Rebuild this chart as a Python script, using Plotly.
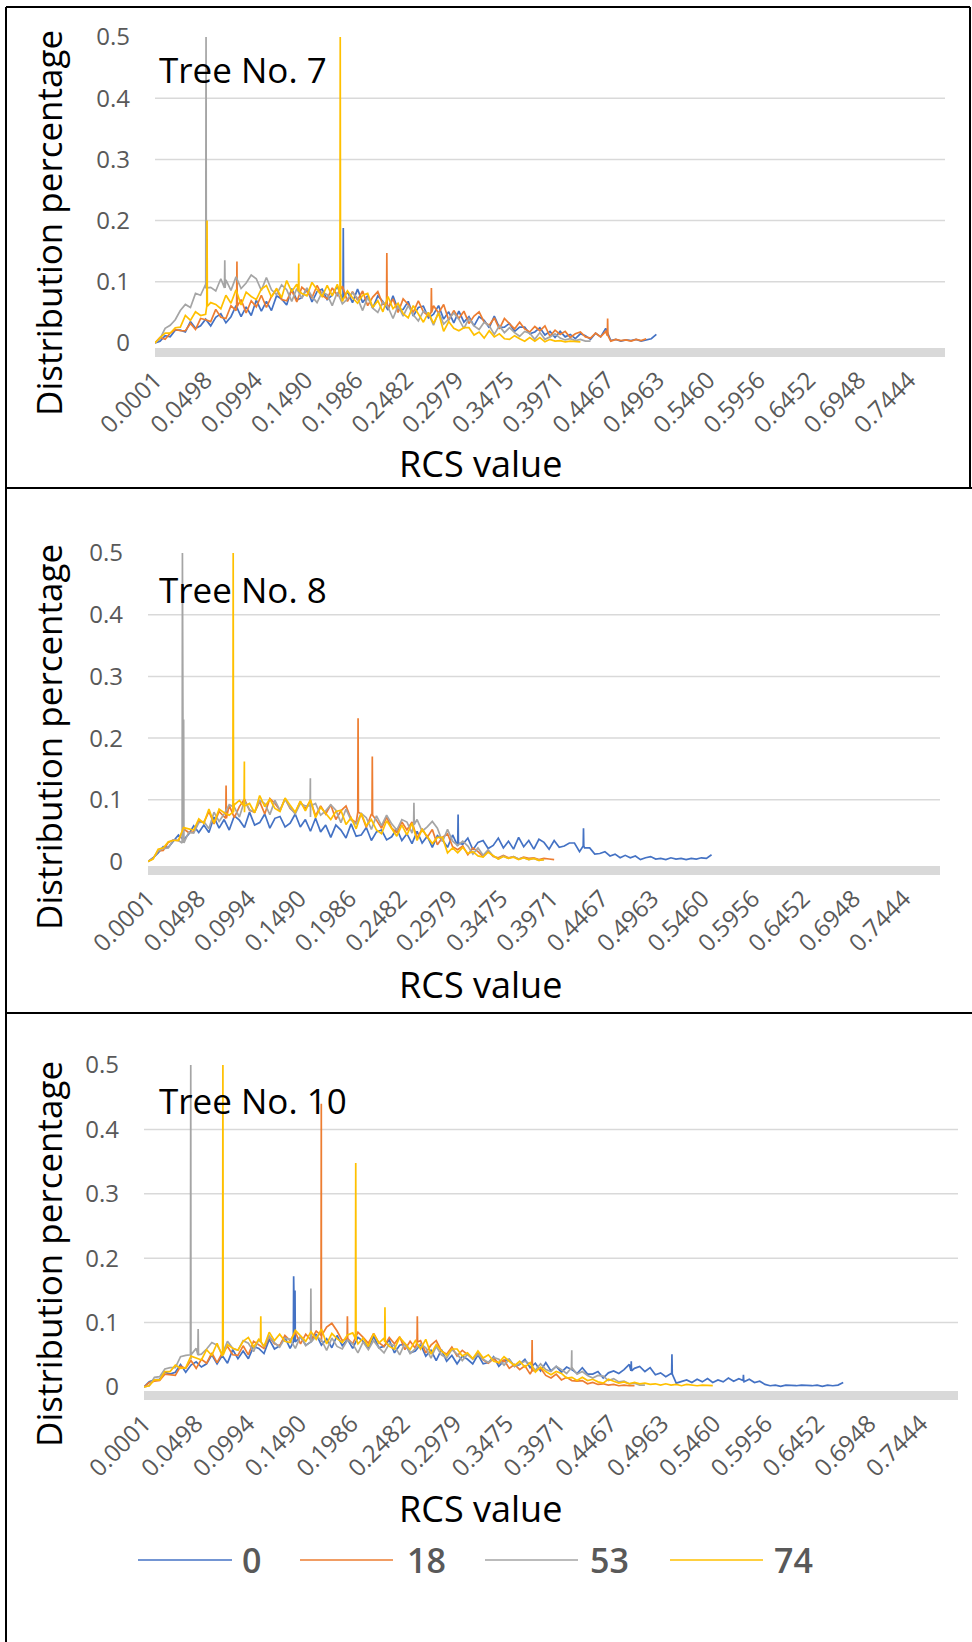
import plotly.graph_objects as go

# ---------------- data ----------------
STEP = 0.005      # spacing of the sampled RCS bins
X0 = 0.0001       # first RCS category

tick_vals = [0.0001, 0.0498, 0.0994, 0.1490, 0.1986, 0.2482, 0.2979, 0.3475,
             0.3971, 0.4467, 0.4963, 0.5460, 0.5956, 0.6452, 0.6948, 0.7444]
tick_text = ["0.0001", "0.0498", "0.0994", "0.1490", "0.1986", "0.2482", "0.2979", "0.3475",
             "0.3971", "0.4467", "0.4963", "0.5460", "0.5956", "0.6452", "0.6948", "0.7444"]
y_tick_vals = [0, 0.1, 0.2, 0.3, 0.4, 0.5]
y_tick_text = ["0", "0.1", "0.2", "0.3", "0.4", "0.5"]
grid_vals = [0.1, 0.2, 0.3, 0.4]

series_names = ["0", "18", "53", "74"]
series_colors = ["#4472C4", "#ED7D31", "#A5A5A5", "#FFC000"]
tree_names = ["Tree No. 7", "Tree No. 8", "Tree No. 10"]

# Tree No. 7
t7_0 = [0, .003, .012, .010, .021, .021, .018, .035, .024, .028,
        .039, .028, .042, .048, .033, .043, .061, .043, .059, .045,
        .070, .052, .068, .053, .077, .072, .062, .089, .070, .074,
        .089, .067, .084, .088, .071, .078, .093, .072, .084, .066,
        .088, .066, .077, .057, .077, .068, .054, .077, .054, .055,
        .068, .044, .058, .060, .041, .047, .061, .039, .051, .033,
        .052, .034, .043, .028, .043, .037, .025, .044, .025, .026,
        .032, .019, .026, .026, .015, .018, .025, .013, .019, .009,
        .019, .010, .014, .007, .015, .012, .006, .016, .010, .024,
        .004, .006, .003, .005, .004, .006, .003, .005, .007, .014]
t7_18 = [0, .009, .006, .016, .022, .020, .020, .032, .022, .040,
         .038, .035, .055, .042, .040, .061, .053, .071, .049, .069,
         .059, .078, .058, .076, .088, .071, .069, .086, .067, .091,
         .084, .074, .094, .078, .072, .090, .078, .093, .068, .084,
         .070, .085, .061, .075, .084, .063, .057, .072, .050, .072,
         .063, .050, .069, .051, .044, .061, .049, .063, .037, .053,
         .040, .052, .032, .044, .051, .034, .029, .041, .023, .040,
         .032, .023, .034, .023, .018, .027, .020, .028, .011, .021,
         .014, .019, .009, .015, .018, .010, .008, .016, .010, .019,
         .003, .006, .004, .005, .003, .006, .004, .007]
t7_53 = [0, .007, .024, .029, .038, .053, .063, .058, .081, .078,
         .096, .091, .085, .105, .103, .086, .108, .089, .098, .111,
         .105, .086, .107, .087, .079, .095, .087, .068, .089, .073,
         .090, .076, .066, .083, .079, .061, .083, .064, .072, .082,
         .073, .053, .075, .057, .050, .067, .059, .040, .061, .044,
         .061, .046, .036, .052, .048, .029, .051, .031, .039, .049,
         .039, .024, .040, .028, .022, .034, .028, .014, .028, .017,
         .025, .017, .011, .019, .016, .006, .017, .006, .010, .015,
         .008, .005, .007, .004, .006, .003, .003]
t7_74 = [0, .009, .016, .016, .025, .026, .045, .037, .051, .045,
         .047, .066, .063, .056, .078, .065, .087, .062, .083, .076,
         .071, .088, .094, .075, .089, .074, .102, .084, .096, .081,
         .077, .099, .087, .076, .094, .077, .096, .068, .085, .074,
         .065, .078, .081, .058, .069, .051, .076, .056, .065, .048,
         .041, .061, .047, .034, .050, .032, .049, .019, .035, .024,
         .020, .025, .025, .013, .018, .008, .020, .010, .015, .007,
         .006, .012, .007, .003, .009, .003, .009, .002, .006, .003,
         .004, .002, .003, .002, .002]

# Tree No. 8
t8_0 = [0, .006, .014, .024, .023, .033, .043, .035, .044, .058,
        .047, .059, .047, .072, .054, .068, .051, .074, .067, .055,
        .080, .059, .063, .077, .054, .070, .073, .056, .062, .077,
        .056, .068, .049, .070, .048, .059, .039, .059, .051, .038,
        .061, .041, .043, .055, .034, .048, .051, .035, .040, .053,
        .034, .045, .029, .049, .030, .041, .023, .042, .035, .023,
        .043, .025, .028, .038, .019, .031, .034, .021, .026, .038,
        .022, .033, .020, .039, .024, .034, .020, .036, .031, .020,
        .034, .023, .025, .030, .030, .016, .022, .022, .012, .013,
        .016, .009, .012, .006, .010, .006, .009, .003, .006, .008,
        .004, .005, .003, .006, .004, .005, .003, .005, .004, .006, .005, .011]
t8_18 = [0, .005, .017, .018, .031, .035, .034, .053, .047, .048,
         .066, .063, .081, .061, .081, .072, .091, .071, .089, .101,
         .083, .080, .097, .077, .102, .094, .083, .102, .086, .079,
         .097, .085, .099, .074, .090, .077, .092, .068, .082, .090,
         .069, .063, .077, .055, .077, .067, .054, .072, .054, .047,
         .064, .051, .064, .038, .053, .039, .052, .027, .039, .045,
         .024, .019, .025, .011, .022, .016, .008, .017, .008, .006,
         .010, .006, .008, .004, .007, .005, .006, .003, .005, .004, .003]
t8_53 = [0, .005, .017, .021, .022, .035, .034, .051, .047, .046,
         .063, .065, .053, .080, .065, .077, .092, .088, .072, .098,
         .084, .080, .099, .094, .076, .099, .083, .101, .087, .077,
         .094, .090, .072, .094, .075, .082, .092, .083, .063, .085,
         .067, .061, .078, .071, .052, .074, .058, .075, .061, .051,
         .068, .064, .046, .068, .049, .056, .065, .054, .032, .052,
         .033, .026, .033, .025, .012, .022, .010, .019, .009, .004,
         .009, .005, .008, .004, .006, .003, .005, .002, .003]
t8_74 = [0, .004, .020, .022, .032, .034, .034, .055, .053, .051,
         .069, .062, .085, .062, .085, .079, .075, .092, .099, .080,
         .094, .079, .107, .089, .101, .086, .081, .103, .091, .080,
         .098, .082, .100, .071, .088, .077, .068, .081, .083, .060,
         .071, .053, .078, .058, .068, .051, .045, .066, .053, .041,
         .059, .043, .062, .034, .052, .040, .029, .039, .039, .014,
         .022, .014, .023, .013, .016, .009, .007, .015, .009, .004,
         .008, .005, .007, .003, .006, .003, .005, .002, .003]

# Tree No. 10
t10_0 = [0, .008, .011, .012, .023, .020, .023, .035, .023, .034,
         .039, .031, .036, .050, .036, .049, .037, .058, .044, .056,
         .044, .063, .060, .052, .074, .059, .064, .077, .060, .074,
         .078, .065, .070, .082, .065, .075, .061, .080, .064, .074,
         .060, .077, .071, .060, .079, .061, .063, .073, .053, .065,
         .067, .053, .056, .066, .048, .057, .041, .058, .040, .049,
         .036, .048, .043, .036, .050, .036, .038, .047, .032, .041,
         .043, .032, .035, .043, .030, .037, .025, .038, .025, .032,
         .023, .031, .027, .021, .030, .020, .020, .024, .014, .022,
         .025, .021, .027, .035, .029, .032, .024, .030, .019, .022,
         .016, .021, .006, .009, .011, .007, .012, .008, .013, .007,
         .011, .008, .014, .009, .013, .008, .012, .007, .009, .004,
         .002, .003, .001, .003, .002, .002, .003, .002, .002, .003,
         .001, .003, .002, .003, .007]
t10_18 = [0, .007, .009, .010, .020, .019, .018, .032, .029, .041,
          .029, .043, .037, .053, .038, .053, .063, .050, .049, .064,
          .050, .071, .066, .060, .078, .067, .064, .080, .072, .085,
          .067, .082, .073, .087, .070, .093, .099, .087, .072, .084,
          .067, .085, .077, .068, .083, .069, .063, .077, .067, .078,
          .058, .071, .060, .072, .053, .065, .072, .056, .051, .062,
          .048, .057, .051, .044, .052, .042, .037, .044, .037, .042,
          .029, .035, .027, .033, .020, .026, .029, .018, .014, .020,
          .011, .015, .010, .009, .010, .005, .007, .004, .005, .003,
          .004, .002, .003, .002, .002]
t10_53 = [0, .002, .015, .016, .028, .030, .030, .047, .049, .043,
          .060, .051, .059, .069, .065, .051, .071, .060, .057, .072,
          .068, .055, .074, .063, .079, .069, .062, .076, .074, .060,
          .079, .064, .071, .079, .073, .057, .076, .063, .059, .073,
          .067, .053, .070, .058, .072, .061, .053, .067, .064, .050,
          .068, .052, .059, .067, .061, .045, .063, .050, .045, .058,
          .051, .041, .051, .043, .051, .043, .038, .046, .043, .034,
          .043, .032, .036, .040, .036, .026, .036, .027, .024, .032,
          .027, .021, .027, .020, .024, .018, .014, .018, .017, .010,
          .013, .008, .009, .005, .006, .003, .003]
t10_74 = [0, .002, .011, .011, .024, .024, .034, .029, .030, .048,
          .045, .042, .058, .049, .068, .048, .066, .060, .057, .071,
          .077, .062, .074, .063, .085, .072, .082, .071, .069, .088,
          .079, .071, .086, .074, .090, .067, .083, .075, .069, .081,
          .084, .067, .076, .063, .083, .068, .076, .063, .059, .077,
          .067, .058, .072, .059, .074, .051, .066, .056, .049, .059,
          .059, .048, .053, .044, .056, .045, .050, .040, .038, .047,
          .040, .033, .040, .031, .038, .023, .031, .024, .019, .024,
          .021, .014, .015, .010, .015, .010, .012, .008, .006, .012,
          .009, .006, .008, .005, .007, .005, .006, .004, .005, .003,
          .005, .003, .004, .002, .004, .003, .002, .003, .003, .002]

# single-bin spikes: (RCS value, neighbouring level, peak)
spk7_0 = [(0.186, .075, .188)]
spk7_18 = [(0.081, .060, .133), (0.229, .065, .147), (0.273, .050, .090), (0.447, .012, .040)]
spk7_53 = [(0.0505, .090, .500), (0.069, .090, .135)]
spk7_74 = [(0.0515, .060, .200), (0.142, .085, .130), (0.183, .080, .500)]

spk8_0 = [(0.3055, .030, .076), (0.429, .025, .054)]
spk8_18 = [(0.077, .070, .123), (0.207, .080, .232), (0.221, .075, .170)]
spk8_53 = [(0.034, .030, .500), (0.0352, .030, .230), (0.160, .090, .135), (0.262, .060, .095)]
spk8_74 = [(0.084, .080, .500), (0.095, .090, .162)]

spk10_0 = [(0.1435, .070, .172), (0.1448, .070, .150), (0.467, .025, .040),
           (0.506, .020, .051), (0.5745, .010, .019)]
spk10_18 = [(0.170, .080, .440), (0.195, .075, .110), (0.262, .070, .110), (0.372, .025, .073)]
spk10_53 = [(0.0449, .050, .500), (0.052, .050, .090), (0.160, .070, .153), (0.410, .030, .057)]
spk10_74 = [(0.0757, .050, .500), (0.112, .070, .110), (0.203, .075, .348), (0.231, .070, .124)]

panel_series = [[t7_0, t7_18, t7_53, t7_74],
                [t8_0, t8_18, t8_53, t8_74],
                [t10_0, t10_18, t10_53, t10_74]]
panel_spikes = [[spk7_0, spk7_18, spk7_53, spk7_74],
                [spk8_0, spk8_18, spk8_53, spk8_74],
                [spk10_0, spk10_18, spk10_53, spk10_74]]

# ---------------- layout geometry (pixels) ----------------
W, H = 972, 1642
FONT = "Open Sans"
TICK_COLOR = "#595959"

geom = [
    dict(x0=155, x1=945, ytop=37, ybot=347.5, ymin=-0.00735, tree_y=70, rcs_y=464, yt_y=223),
    dict(x0=148, x1=940, ytop=553, ybot=866, ymin=-0.0073, tree_y=589, rcs_y=984, yt_y=737),
    dict(x0=144, x1=958, ytop=1065, ybot=1391, ymin=-0.0062, tree_y=1100, rcs_y=1508, yt_y=1254),
]


def fx(p):
    return p / W


def fy(p):
    return 1 - p / H


def build(vals, spikes):
    pts = [(X0 + STEP * i, v) for i, v in enumerate(vals)]
    for sx, lo, pk in spikes:
        pts += [(sx - 0.0003, lo), (sx, pk), (sx + 0.0003, lo)]
    pts.sort()
    return [p[0] for p in pts], [p[1] for p in pts]


fig = go.Figure()
shapes = []
annotations = []
layout_axes = {}

for k in range(3):
    g = geom[k]
    sfx = "" if k == 0 else str(k + 1)
    xa, ya = "x" + sfx, "y" + sfx
    for s in range(4):
        xs, ys = build(panel_series[k][s], panel_spikes[k][s])
        fig.add_trace(go.Scatter(
            x=xs, y=ys, mode="lines", name=series_names[s],
            line=dict(color=series_colors[s], width=1.7),
            xaxis=xa, yaxis=ya, showlegend=False, hoverinfo="skip"))
    layout_axes["xaxis" + sfx] = dict(
        domain=[fx(g["x0"]), fx(g["x1"])], anchor=ya, range=[0.0001, 0.7801],
        tickmode="array", tickvals=tick_vals, ticktext=tick_text, tickangle=-45,
        tickfont=dict(family=FONT, size=24, color=TICK_COLOR),
        showgrid=False, zeroline=False, showline=True, linecolor="#D9D9D9",
        linewidth=9, ticks="", ticklabelstandoff=0, fixedrange=True, automargin=False)
    layout_axes["yaxis" + sfx] = dict(
        domain=[fy(g["ybot"]), fy(g["ytop"])], anchor=xa, range=[g["ymin"], 0.5],
        tickmode="array", tickvals=y_tick_vals, ticktext=y_tick_text,
        tickfont=dict(family=FONT, size=24, color=TICK_COLOR),
        showgrid=False, zeroline=False, showline=False, ticks="",
        ticklabelstandoff=24, fixedrange=True, automargin=False)
    for gv in grid_vals:
        shapes.append(dict(type="line", xref=xa + " domain", x0=0, x1=1, yref=ya, y0=gv, y1=gv,
                           line=dict(color="#D9D9D9", width=1.5), layer="below"))
    annotations.append(dict(text=tree_names[k], xref="paper", yref="paper",
                            x=fx(157), y=fy(g["tree_y"]), xanchor="left", yanchor="middle",
                            showarrow=False, font=dict(family=FONT, size=35, color="black")))
    annotations.append(dict(text="RCS value", xref="paper", yref="paper",
                            x=fx(480), y=fy(g["rcs_y"]), xanchor="center", yanchor="middle",
                            showarrow=False, font=dict(family=FONT, size=36, color="black")))
    annotations.append(dict(text="Distribution percentage", xref="paper", yref="paper",
                            x=fx(48), y=fy(g["yt_y"]), xanchor="center", yanchor="middle",
                            textangle=-90, showarrow=False,
                            font=dict(family=FONT, size=35, color="black")))

# panel frames
frame = dict(color="black", width=2)
shapes += [
    dict(type="line", xref="paper", yref="paper", x0=fx(6), x1=fx(6), y0=fy(7), y1=fy(H), line=frame),
    dict(type="line", xref="paper", yref="paper", x0=fx(6), x1=fx(970), y0=fy(7), y1=fy(7), line=frame),
    dict(type="line", xref="paper", yref="paper", x0=fx(970), x1=fx(970), y0=fy(7), y1=fy(488), line=frame),
    dict(type="line", xref="paper", yref="paper", x0=fx(6), x1=fx(W), y0=fy(488), y1=fy(488), line=frame),
    dict(type="line", xref="paper", yref="paper", x0=fx(6), x1=fx(W), y0=fy(1013), y1=fy(1013), line=frame),
]

# legend (drawn manually to match the long Excel legend keys)
leg_y = 1560
leg_lines = [(138, 232, 240), (300, 393, 405), (485, 578, 588), (670, 763, 772)]
for s, (l0, l1, tx) in enumerate(leg_lines):
    shapes.append(dict(type="line", xref="paper", yref="paper", x0=fx(l0), x1=fx(l1),
                       y0=fy(leg_y), y1=fy(leg_y), line=dict(color=series_colors[s], width=1.5)))
    annotations.append(dict(text=series_names[s], xref="paper", yref="paper", x=fx(tx), y=fy(leg_y),
                            xanchor="left", yanchor="middle", showarrow=False,
                            font=dict(family=FONT, size=34, color=TICK_COLOR, weight=600)))

fig.update_layout(
    width=W, height=H, margin=dict(l=0, r=0, t=0, b=0, pad=0, autoexpand=False),
    paper_bgcolor="white", plot_bgcolor="white", showlegend=False,
    shapes=shapes, annotations=annotations, **layout_axes)

fig.write_html("out.html")
